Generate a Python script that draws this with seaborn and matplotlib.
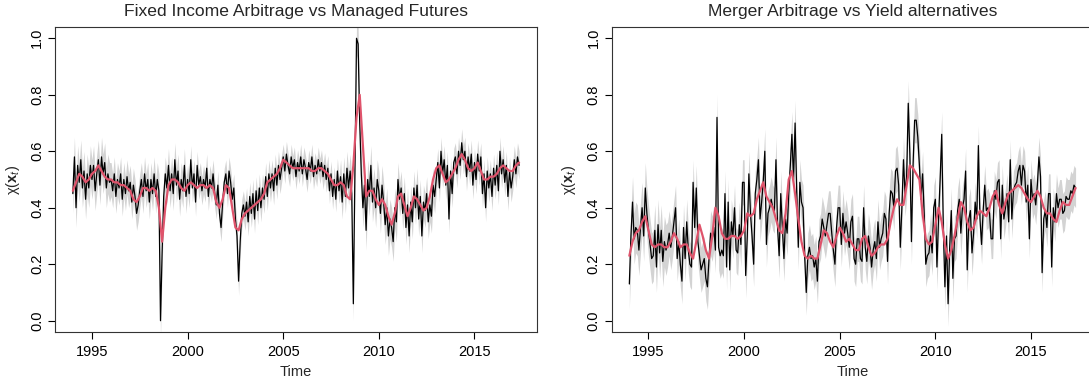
import numpy as np
import pandas as pd
import matplotlib
matplotlib.use("Agg")
import matplotlib.pyplot as plt
import seaborn as sns

# ---------------- data ----------------
start_year = 1994
titles = ["Fixed Income Arbitrage vs Managed Futures",
          "Merger Arbitrage vs Yield alternatives"]
x_ticks = [1995, 2000, 2005, 2010, 2015]
y_ticks = [0.0, 0.2, 0.4, 0.6, 0.8, 1.0]

# monthly values (Jan 1994 .. May 2017), black line, left panel
left_black = [
    0.45, 0.58, 0.40, 0.55, 0.49, 0.57, 0.47, 0.53, 0.43, 0.52, 0.47, 0.55,  # 1994
    0.50, 0.55, 0.46, 0.52, 0.57, 0.48, 0.58, 0.52, 0.56, 0.47, 0.52, 0.49,  # 1995
    0.50, 0.46, 0.52, 0.44, 0.50, 0.47, 0.52, 0.43, 0.50, 0.45, 0.51, 0.46,  # 1996
    0.49, 0.42, 0.48, 0.44, 0.38, 0.41, 0.46, 0.50, 0.44, 0.52, 0.46, 0.50,  # 1997
    0.42, 0.50, 0.45, 0.52, 0.44, 0.50, 0.46, 0.00, 0.24, 0.44, 0.52, 0.47,  # 1998
    0.55, 0.46, 0.52, 0.45, 0.57, 0.48, 0.53, 0.43, 0.50, 0.46, 0.55, 0.44,  # 1999
    0.50, 0.45, 0.57, 0.47, 0.52, 0.42, 0.55, 0.48, 0.51, 0.46, 0.50, 0.47,  # 2000
    0.54, 0.44, 0.50, 0.47, 0.52, 0.45, 0.41, 0.48, 0.38, 0.33, 0.42, 0.49,  # 2001
    0.52, 0.45, 0.53, 0.49, 0.43, 0.47, 0.36, 0.30, 0.14, 0.28, 0.38, 0.41,  # 2002
    0.37, 0.42, 0.35, 0.44, 0.38, 0.45, 0.36, 0.46, 0.39, 0.47, 0.40, 0.47,  # 2003
    0.43, 0.51, 0.44, 0.52, 0.47, 0.52, 0.46, 0.54, 0.48, 0.55, 0.50, 0.54,  # 2004
    0.58, 0.53, 0.59, 0.55, 0.52, 0.58, 0.54, 0.57, 0.51, 0.56, 0.53, 0.58,  # 2005
    0.52, 0.57, 0.54, 0.50, 0.56, 0.53, 0.58, 0.51, 0.55, 0.52, 0.57, 0.53,  # 2006
    0.56, 0.51, 0.55, 0.50, 0.54, 0.46, 0.52, 0.44, 0.50, 0.43, 0.53, 0.46,  # 2007
    0.51, 0.42, 0.52, 0.44, 0.54, 0.47, 0.53, 0.45, 0.06, 0.53, 1.00, 0.98,  # 2008
    0.70, 0.52, 0.40, 0.48, 0.32, 0.50, 0.44, 0.55, 0.42, 0.47, 0.40, 0.50,  # 2009
    0.46, 0.38, 0.48, 0.42, 0.34, 0.40, 0.30, 0.36, 0.33, 0.28, 0.40, 0.35,  # 2010
    0.50, 0.43, 0.47, 0.38, 0.45, 0.33, 0.41, 0.30, 0.42, 0.35, 0.47, 0.40,  # 2011
    0.48, 0.36, 0.44, 0.30, 0.42, 0.39, 0.45, 0.35, 0.41, 0.37, 0.48, 0.44,  # 2012
    0.50, 0.56, 0.47, 0.60, 0.52, 0.57, 0.48, 0.55, 0.36, 0.53, 0.45, 0.56,  # 2013
    0.58, 0.52, 0.60, 0.55, 0.63, 0.57, 0.60, 0.51, 0.58, 0.53, 0.59, 0.48,  # 2014
    0.56, 0.50, 0.59, 0.53, 0.58, 0.45, 0.52, 0.40, 0.53, 0.47, 0.52, 0.44,  # 2015
    0.54, 0.48, 0.55, 0.46, 0.60, 0.52, 0.57, 0.49, 0.55, 0.44, 0.53, 0.47,  # 2016
    0.51, 0.57, 0.52, 0.58, 0.55,                                            # 2017
]

# smooth (red) line, every two months (Jan 1994 .. May 2017), left panel
left_red = [
    0.46, 0.49, 0.52, 0.51, 0.49, 0.50,  # 1994
    0.52, 0.53, 0.55, 0.53, 0.51, 0.50,  # 1995
    0.50, 0.49, 0.49, 0.48, 0.48, 0.47,  # 1996
    0.46, 0.43, 0.42, 0.44, 0.47, 0.47,  # 1997
    0.46, 0.47, 0.46, 0.40, 0.28, 0.40,  # 1998
    0.48, 0.50, 0.50, 0.49, 0.47, 0.46,  # 1999
    0.48, 0.49, 0.48, 0.47, 0.48, 0.48,  # 2000
    0.47, 0.48, 0.47, 0.42, 0.40, 0.43,  # 2001
    0.48, 0.47, 0.40, 0.33, 0.32, 0.36,  # 2002
    0.38, 0.39, 0.40, 0.41, 0.42, 0.43,  # 2003
    0.45, 0.49, 0.50, 0.51, 0.52, 0.54,  # 2004
    0.57, 0.56, 0.55, 0.54, 0.54, 0.54,  # 2005
    0.54, 0.54, 0.54, 0.53, 0.53, 0.54,  # 2006
    0.54, 0.53, 0.52, 0.50, 0.48, 0.48,  # 2007
    0.49, 0.48, 0.44, 0.43, 0.55, 0.72,  # 2008
    0.80, 0.62, 0.44, 0.46, 0.46, 0.43,  # 2009
    0.41, 0.43, 0.41, 0.37, 0.34, 0.38,  # 2010
    0.44, 0.45, 0.41, 0.37, 0.40, 0.44,  # 2011
    0.43, 0.41, 0.39, 0.40, 0.44, 0.50,  # 2012
    0.54, 0.55, 0.52, 0.49, 0.50, 0.52,  # 2013
    0.54, 0.57, 0.59, 0.57, 0.54, 0.53,  # 2014
    0.54, 0.56, 0.53, 0.50, 0.50, 0.51,  # 2015
    0.51, 0.52, 0.54, 0.55, 0.54, 0.53,  # 2016
    0.53, 0.55, 0.56,                    # 2017
]

right_black = [
    0.13, 0.30, 0.42, 0.29, 0.33, 0.32, 0.25, 0.33, 0.40, 0.30, 0.47, 0.38,  # 1994
    0.32, 0.27, 0.22, 0.23, 0.32, 0.19, 0.34, 0.24, 0.32, 0.21, 0.28, 0.25,  # 1995
    0.27, 0.31, 0.26, 0.30, 0.35, 0.40, 0.22, 0.28, 0.20, 0.14, 0.33, 0.22,  # 1996
    0.35, 0.25, 0.20, 0.19, 0.49, 0.33, 0.47, 0.28, 0.23, 0.18, 0.20, 0.22,  # 1997
    0.15, 0.12, 0.22, 0.31, 0.29, 0.33, 0.25, 0.72, 0.26, 0.23, 0.25, 0.23,  # 1998
    0.45, 0.19, 0.42, 0.18, 0.35, 0.30, 0.40, 0.25, 0.24, 0.34, 0.27, 0.49,  # 1999
    0.49, 0.16, 0.30, 0.52, 0.38, 0.30, 0.20, 0.45, 0.50, 0.57, 0.36, 0.42,  # 2000
    0.49, 0.60, 0.27, 0.38, 0.40, 0.43, 0.40, 0.39, 0.57, 0.33, 0.23, 0.45,  # 2001
    0.33, 0.22, 0.36, 0.31, 0.45, 0.55, 0.66, 0.50, 0.70, 0.46, 0.26, 0.49,  # 2002
    0.42, 0.40, 0.23, 0.10, 0.23, 0.26, 0.22, 0.23, 0.19, 0.22, 0.14, 0.28,  # 2003
    0.30, 0.36, 0.33, 0.30, 0.34, 0.38, 0.38, 0.31, 0.25, 0.20, 0.33, 0.40,  # 2004
    0.40, 0.27, 0.38, 0.31, 0.35, 0.31, 0.26, 0.35, 0.37, 0.22, 0.20, 0.29,  # 2005
    0.29, 0.22, 0.21, 0.40, 0.26, 0.21, 0.30, 0.26, 0.19, 0.25, 0.28, 0.22,  # 2006
    0.35, 0.26, 0.29, 0.31, 0.38, 0.36, 0.21, 0.38, 0.46, 0.45, 0.40, 0.53,  # 2007
    0.54, 0.48, 0.26, 0.40, 0.57, 0.45, 0.51, 0.77, 0.59, 0.28, 0.55, 0.71,  # 2008
    0.71, 0.65, 0.55, 0.43, 0.52, 0.38, 0.20, 0.23, 0.24, 0.30, 0.24, 0.40,  # 2009
    0.43, 0.19, 0.36, 0.50, 0.66, 0.33, 0.12, 0.30, 0.06, 0.26, 0.39, 0.15,  # 2010
    0.29, 0.30, 0.39, 0.43, 0.31, 0.40, 0.43, 0.53, 0.18, 0.36, 0.39, 0.24,  # 2011
    0.31, 0.42, 0.36, 0.62, 0.36, 0.27, 0.39, 0.48, 0.39, 0.40, 0.38, 0.29,  # 2012
    0.29, 0.46, 0.43, 0.49, 0.50, 0.29, 0.48, 0.36, 0.40, 0.45, 0.35, 0.57,  # 2013
    0.36, 0.46, 0.48, 0.49, 0.53, 0.55, 0.48, 0.55, 0.53, 0.42, 0.48, 0.29,  # 2014
    0.50, 0.43, 0.45, 0.41, 0.48, 0.58, 0.51, 0.17, 0.36, 0.39, 0.33, 0.45,  # 2015
    0.45, 0.19, 0.40, 0.35, 0.45, 0.40, 0.43, 0.43, 0.38, 0.39, 0.44, 0.43,  # 2016
    0.43, 0.46, 0.45, 0.48, 0.47,                                            # 2017
]

right_red = [
    0.23, 0.28, 0.31, 0.32, 0.35, 0.37,  # 1994
    0.32, 0.27, 0.26, 0.27, 0.27, 0.26,  # 1995
    0.26, 0.28, 0.31, 0.29, 0.26, 0.27,  # 1996
    0.27, 0.24, 0.22, 0.28, 0.34, 0.30,  # 1997
    0.25, 0.22, 0.30, 0.40, 0.37, 0.31,  # 1998
    0.29, 0.29, 0.30, 0.30, 0.29, 0.30,  # 1999
    0.32, 0.38, 0.37, 0.38, 0.43, 0.46,  # 2000
    0.49, 0.44, 0.42, 0.40, 0.36, 0.32,  # 2001
    0.31, 0.38, 0.50, 0.53, 0.45, 0.36,  # 2002
    0.28, 0.23, 0.22, 0.23, 0.22, 0.22,  # 2003
    0.27, 0.32, 0.31, 0.28, 0.26, 0.30,  # 2004
    0.33, 0.31, 0.28, 0.29, 0.27, 0.25,  # 2005
    0.25, 0.29, 0.30, 0.26, 0.23, 0.24,  # 2006
    0.26, 0.27, 0.27, 0.29, 0.35, 0.40,  # 2007
    0.43, 0.41, 0.41, 0.48, 0.55, 0.54,  # 2008
    0.52, 0.50, 0.38, 0.29, 0.27, 0.28,  # 2009
    0.34, 0.40, 0.35, 0.27, 0.22, 0.25,  # 2010
    0.30, 0.36, 0.42, 0.40, 0.35, 0.32,  # 2011
    0.33, 0.37, 0.39, 0.38, 0.37, 0.40,  # 2012
    0.44, 0.46, 0.41, 0.38, 0.42, 0.45,  # 2013
    0.46, 0.47, 0.48, 0.47, 0.45, 0.43,  # 2014
    0.42, 0.44, 0.46, 0.44, 0.40, 0.38,  # 2015
    0.38, 0.36, 0.35, 0.39, 0.42, 0.41,  # 2016
    0.41, 0.44, 0.47,                    # 2017
]

# half-width of the grey band, one value per year 1994..2017
left_band = [0.07, 0.07, 0.06, 0.06, 0.06, 0.06, 0.05, 0.05, 0.05, 0.05, 0.05, 0.045,
             0.045, 0.045, 0.06, 0.07, 0.07, 0.06, 0.06, 0.05, 0.05, 0.05, 0.05, 0.05]
right_band = [0.09, 0.09, 0.08, 0.08, 0.08, 0.08, 0.08, 0.08, 0.08, 0.08, 0.08, 0.08,
              0.08, 0.08, 0.08, 0.08, 0.08, 0.08, 0.07, 0.07, 0.07, 0.07, 0.07, 0.07]

# ---------------- style ----------------
sns.set_theme(style="white")
plt.rcParams["font.family"] = ["Liberation Sans", "DejaVu Sans"]
plt.rcParams["mathtext.fontset"] = "custom"
plt.rcParams["mathtext.rm"] = "Liberation Sans"
plt.rcParams["mathtext.it"] = "Liberation Sans:italic"
plt.rcParams["mathtext.bf"] = "Liberation Sans:bold"

RED = "#DF536B"
BAND = "#D3D3D3"

fig = plt.figure(figsize=(10.89, 3.83), dpi=100)
ax_pos = [[55 / 1089, 51 / 383, 482 / 1089, 305 / 383],
          [611.5 / 1089, 51 / 383, 482 / 1089, 305 / 383]]

panels = [(left_black, left_red, left_band), (right_black, right_red, right_band)]

for i, (blk, red, band) in enumerate(panels):
    ax = fig.add_axes(ax_pos[i])
    n = len(blk)
    t = start_year + np.arange(n) / 12.0
    tr = start_year + np.arange(len(red)) / 6.0
    yr_idx = (np.arange(n) // 12)
    hw = np.asarray(band)[yr_idx]
    blk_arr = np.asarray(blk)
    ax.fill_between(t, blk_arr - hw, blk_arr + hw, color=BAND, lw=0, zorder=1)
    df_b = pd.DataFrame({"Time": t, "chi": blk_arr})
    df_r = pd.DataFrame({"Time": tr, "chi": red})
    sns.lineplot(data=df_b, x="Time", y="chi", color="black", lw=0.9, ax=ax,
                 estimator=None, zorder=2)
    sns.lineplot(data=df_r, x="Time", y="chi", color=RED, lw=1.6, ax=ax,
                 estimator=None, zorder=3)
    ax.set_xlim(1993.067, 2018.27)
    ax.set_ylim(-0.04, 1.04)
    ax.set_xticks(x_ticks)
    ax.set_xticklabels([str(v) for v in x_ticks])
    ax.set_yticks(y_ticks)
    ax.set_yticklabels([f"{v:.1f}" for v in y_ticks], rotation=90, va="center")
    ax.tick_params(axis="both", direction="out", length=5, width=0.8,
                   color="black", labelsize=10.5, pad=3, labelcolor="black")
    ax.tick_params(axis="x", bottom=True, pad=4)
    ax.tick_params(axis="y", left=True)
    for sp in ax.spines.values():
        sp.set_visible(True)
        sp.set_color("#333333")
        sp.set_linewidth(0.8)
    ax.set_xlabel("Time", fontsize=10.5, labelpad=5)
    ax.set_ylabel(r"$\mathrm{\chi}(\mathbf{x}_t)$", fontsize=10.5, labelpad=6)
    ax.set_title(titles[i], fontsize=12.6, pad=8)

fig.savefig("out.png", dpi=100)
